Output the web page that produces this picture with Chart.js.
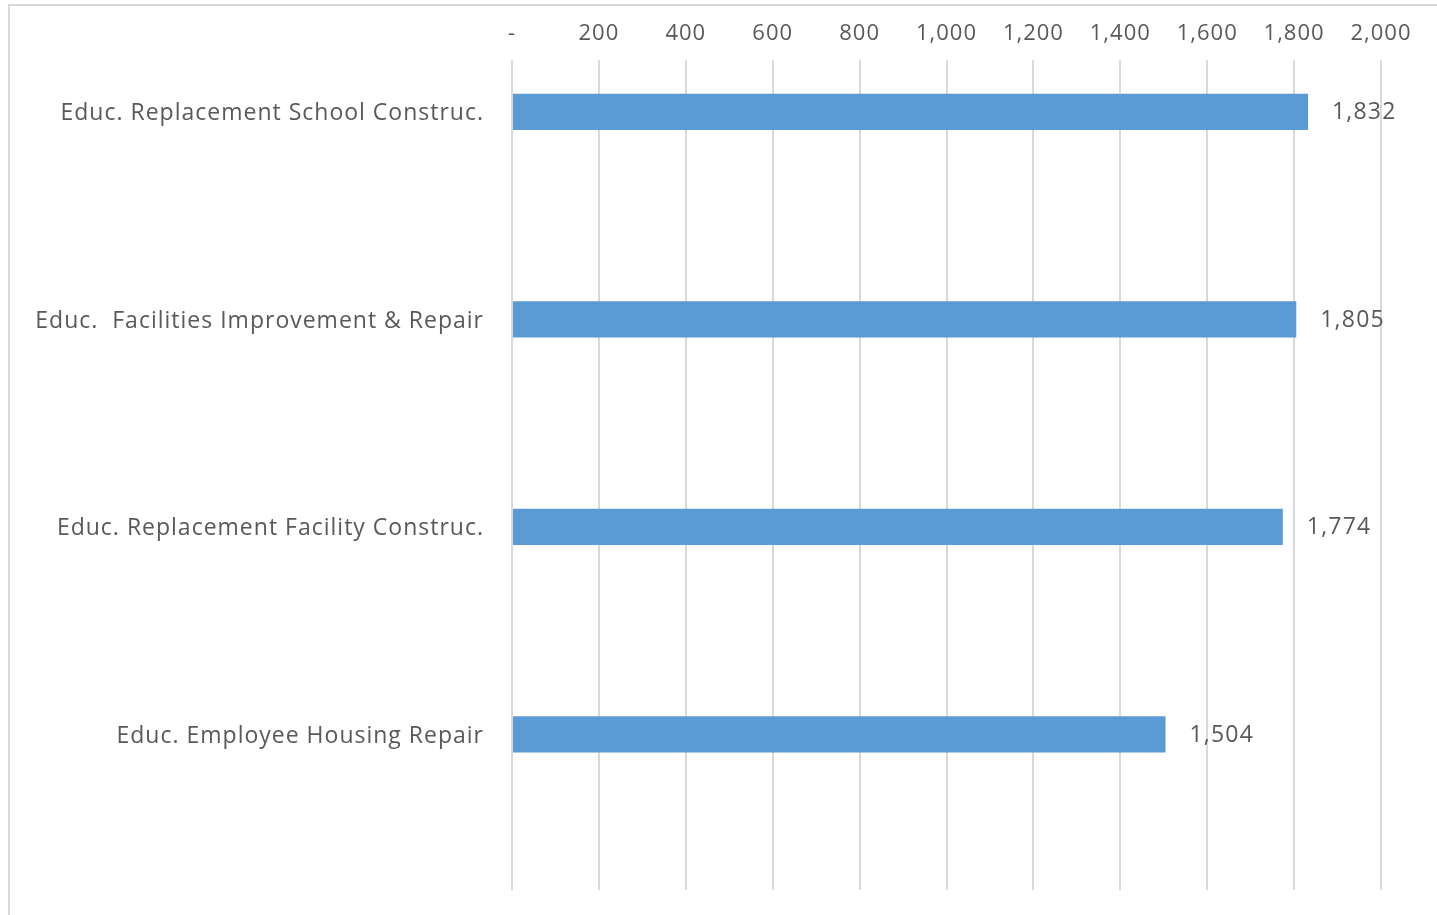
<!DOCTYPE html>
<html>
<head>
<meta charset="utf-8">
<script src="https://cdn.jsdelivr.net/npm/chart.js@4"></script>
<style>
  html, body { margin: 0; padding: 0; background: #ffffff; }
  #wrap { position: relative; width: 1437px; height: 915px; }
</style>
</head>
<body>
<div id="wrap"><canvas id="c" width="1437" height="915"></canvas></div>
<script>
const categories = [
  "Educ. Replacement School Construc.",
  "Educ.  Facilities Improvement & Repair",
  "Educ. Replacement Facility Construc.",
  "Educ. Employee Housing Repair"
];
const values = [1832, 1805, 1774, 1504];
const emptySeries = [null, null, null, null];
const tickLabels = ["-", "200", "400", "600", "800", "1,000", "1,200", "1,400", "1,600", "1,800", "2,000"];

const FONT = "'Open Sans', sans-serif";
const TEXT = "#595959";

const framePlugin = {
  id: 'frame',
  beforeInit(chart) { chart.ctx.letterSpacing = '1px'; },
  beforeDraw(chart) {
    const ctx = chart.ctx;
    ctx.letterSpacing = '1px';
    ctx.save();
    ctx.strokeStyle = '#d9d9d9';
    ctx.lineWidth = 2;
    ctx.beginPath();
    ctx.moveTo(9, 915);
    ctx.lineTo(9, 5);
    ctx.lineTo(1437, 5);
    ctx.stroke();
    ctx.restore();
  }
};

const labelPlugin = {
  id: 'barLabels',
  afterDatasetsDraw(chart) {
    const ctx = chart.ctx;
    const meta = chart.getDatasetMeta(0);
    ctx.save();
    ctx.font = "23px " + FONT;
    ctx.letterSpacing = '1.2px';
    ctx.fillStyle = TEXT;
    ctx.textAlign = 'left';
    ctx.textBaseline = 'middle';
    meta.data.forEach((bar, i) => {
      const v = values[i];
      ctx.fillText(v.toLocaleString('en-US'), bar.x + 24, bar.y + 1);
    });
    ctx.restore();
  }
};

new Chart(document.getElementById('c'), {
  type: 'bar',
  data: {
    labels: categories,
    datasets: [
      { data: values, backgroundColor: '#5b9bd5', borderWidth: 0, barPercentage: 0.35, categoryPercentage: 1.0 },
      { data: emptySeries, backgroundColor: '#ed7d31', borderWidth: 0, barPercentage: 0.35, categoryPercentage: 1.0 }
    ]
  },
  options: {
    indexAxis: 'y',
    responsive: false,
    animation: false,
    layout: { padding: { left: 10, right: 56, top: 8, bottom: 25 } },
    plugins: { legend: { display: false }, tooltip: { enabled: false } },
    scales: {
      x: {
        position: 'top',
        min: 0, max: 2000,
        ticks: {
          stepSize: 200,
          color: TEXT,
          font: { family: FONT, size: 22 },
          padding: 13,
          callback: (v, i) => tickLabels[i]
        },
        grid: { color: '#d9d9d9', lineWidth: 2, drawTicks: false },
        border: { display: false },
        afterFit(scale) { scale.height = 52; scale.paddingLeft = 0; scale.paddingRight = 0; }
      },
      y: {
        ticks: {
          color: TEXT,
          font: { family: FONT, size: 23 },
          padding: 28,
          labelOffset: -50
        },
        grid: { display: false, drawTicks: false },
        border: { display: false },
        afterFit(scale) { scale.width = 502; scale.paddingTop = 0; scale.paddingBottom = 0; }
      }
    }
  },
  plugins: [framePlugin, labelPlugin]
});
</script>
</body>
</html>
